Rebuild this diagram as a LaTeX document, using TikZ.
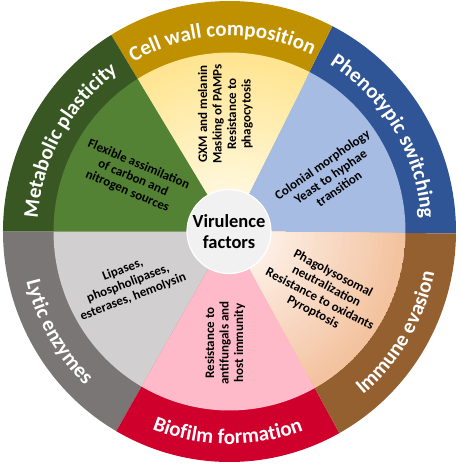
\documentclass[tikz,border=0pt]{standalone}
\usepackage{fontspec}
\setmainfont{Carlito}
\usetikzlibrary{decorations.text}
\definecolor{gOut}{HTML}{385723}
\definecolor{gIn}{HTML}{548235}
\definecolor{yOut}{HTML}{BF9000}
\definecolor{yInA}{HTML}{FFF7DA}
\definecolor{yInB}{HTML}{FFE591}
\definecolor{bOut}{HTML}{2F5597}
\definecolor{bIn}{HTML}{A6BCE3}
\definecolor{brOut}{HTML}{94602F}
\definecolor{pInA}{HTML}{FDEEE4}
\definecolor{pInB}{HTML}{F3C29E}
\definecolor{rOut}{HTML}{D0002C}
\definecolor{rIn}{HTML}{FFBACA}
\definecolor{gyOut}{HTML}{7B7676}
\definecolor{gyIn}{HTML}{D1CFCF}
\definecolor{cIn}{HTML}{F1F1F1}
\tikzset{
 oR/.style={x radius=226.5pt, y radius=230.5pt},
 iR/.style={x radius=176pt, y radius=179pt},
 tR/.style={x radius=192pt, y radius=195.5pt},
 bR/.style={x radius=209pt, y radius=212.5pt},
 sectortext/.style={align=center, font=\bfseries\fontsize{13}{14.5}\selectfont, inner sep=0pt},
}
\newcommand\olab{\color{white}\bfseries\fontsize{21}{21}\selectfont}
\begin{document}
\begin{tikzpicture}
\useasboundingbox (-229.5pt,-232.5pt) rectangle (229.5pt,231.5pt);
% outer ring sectors
\fill[bOut]  (0,0) -- (-0.5:226.5pt and 230.5pt) arc[start angle=-0.5, end angle=63, oR] -- cycle;
\fill[yOut]  (0,0) -- (63:226.5pt and 230.5pt) arc[start angle=63, end angle=121.5, oR] -- cycle;
\fill[gOut]  (0,0) -- (121.5:226.5pt and 230.5pt) arc[start angle=121.5, end angle=180, oR] -- cycle;
\fill[gyOut] (0,0) -- (180:226.5pt and 230.5pt) arc[start angle=180, end angle=240, oR] -- cycle;
\fill[rOut]  (0,0) -- (240:226.5pt and 230.5pt) arc[start angle=240, end angle=299, oR] -- cycle;
\fill[brOut] (0,0) -- (299:226.5pt and 230.5pt) arc[start angle=299, end angle=359.5, oR] -- cycle;
% inner sectors
\fill[bIn]  (0,0) -- (-0.5:176pt and 179pt) arc[start angle=-0.5, end angle=63, iR] -- cycle;
\begin{scope}
\clip (0,0) -- (63:176pt and 179pt) arc[start angle=63, end angle=121.5, iR] -- cycle;
\foreach \i in {0,...,29}{
  \pgfmathsetmacro\rx{176-4.5*\i}
  \pgfmathsetmacro\ry{179-4.6*\i}
  \pgfmathtruncatemacro\p{100*\i/29}
  \fill[yInA!\p!yInB] (0,0) ellipse[x radius=\rx pt, y radius=\ry pt];
}
\end{scope}
\fill[gIn]  (0,0) -- (121.5:176pt and 179pt) arc[start angle=121.5, end angle=180, iR] -- cycle;
\fill[gyIn] (0,0) -- (180:176pt and 179pt) arc[start angle=180, end angle=240, iR] -- cycle;
\fill[rIn]  (0,0) -- (240:176pt and 179pt) arc[start angle=240, end angle=299, iR] -- cycle;
\begin{scope}
\clip (0,0) -- (299:176pt and 179pt) arc[start angle=299, end angle=359.5, iR] -- cycle;
\foreach \i in {0,...,29}{
  \pgfmathsetmacro\rx{176-4.5*\i}
  \pgfmathsetmacro\ry{179-4.6*\i}
  \pgfmathtruncatemacro\p{100*\i/29}
  \fill[pInA!\p!pInB] (0,0) ellipse[x radius=\rx pt, y radius=\ry pt];
}
\end{scope}
% centre
\node[circle, fill=cIn, draw=white, line width=1.2pt, minimum size=84pt, inner sep=0pt, align=center,
      font=\bfseries\fontsize{18.5}{21.5}\selectfont] (vf) at (-0.5pt,0pt) {Virulence\\factors};
% outer labels
\path[decorate, decoration={text along path, text align=center, text={|\olab|Metabolic plasticity}}]
  (180:192pt and 195.5pt) arc[start angle=180, end angle=121.5, tR];
\path[decorate, decoration={text along path, text align=center, text={|\olab|Cell wall composition}}]
  (121.5:192pt and 195.5pt) arc[start angle=121.5, end angle=63, tR];
\path[decorate, decoration={text along path, text align=center, text={|\olab|Phenotypic switching}}]
  (63:192pt and 195.5pt) arc[start angle=63, end angle=-0.5, tR];
\path[decorate, decoration={text along path, text align=center, text={|\olab|Lytic enzymes}}]
  (180:209pt and 212.5pt) arc[start angle=180, end angle=240, bR];
\path[decorate, decoration={text along path, text align=center, text={|\olab|Biofilm formation}}]
  (240:209pt and 212.5pt) arc[start angle=240, end angle=299, bR];
\path[decorate, decoration={text along path, text align=center, text={|\olab|Immune evasion}}]
  (299:209pt and 212.5pt) arc[start angle=299, end angle=359.5, bR];
% inner texts
\node[sectortext, rotate=-23] (metab) at (-96.5pt,53.5pt) {Flexible assimilation\\of carbon and\\nitrogen sources};
\node[sectortext, rotate=90] (cellw) at (-4pt,117.5pt) {GXM and melanin\\Masking of PAMPs\\Resistance to\\phagocytosis};
\node[sectortext, rotate=35] (pheno) at (101pt,55pt) {Colonial morphology\\Yeast to hyphae\\transition};
\node[sectortext, rotate=-27.5] (immune) at (93.5pt,-61.5pt) {Phagolysosomal\\neutralization\\Resistance to oxidants\\Pyroptosis};
\node[sectortext, rotate=90] (biofilm) at (-4.5pt,-111.5pt) {Resistance to\\antifungals and\\host immunity};
\node[sectortext, rotate=21] (lytic) at (-101.5pt,-52pt) {Lipases,\\phospholipases,\\esterases, hemolysin};
\end{tikzpicture}
\end{document}
